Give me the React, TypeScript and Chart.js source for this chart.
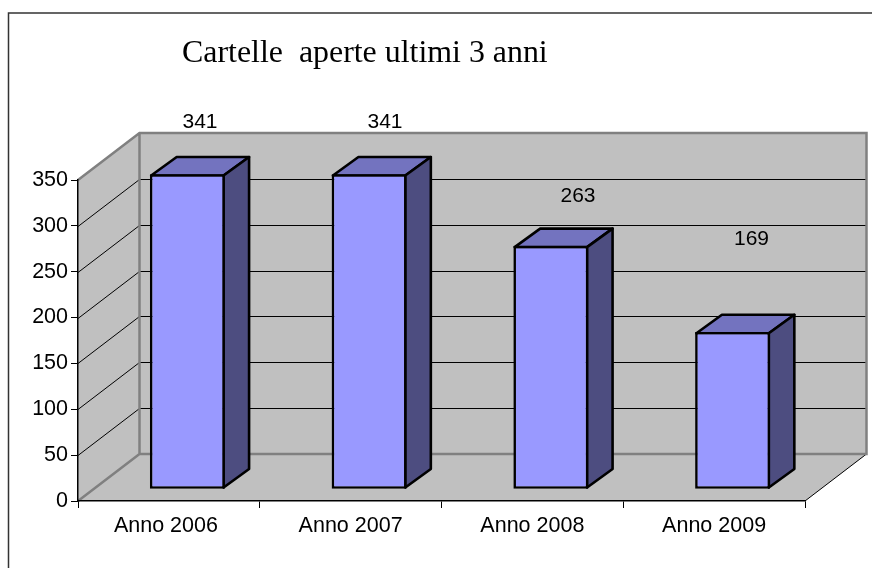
import React, { useEffect, useRef } from "react";
import { Chart, registerables } from "chart.js";

Chart.register(...registerables);

const categories = ["Anno 2006", "Anno 2007", "Anno 2008", "Anno 2009"];
const values = [341, 341, 263, 169];
const chartTitle = "Cartelle  aperte ultimi 3 anni";
const yMax = 350;
const yStep = 50;

// Styling / 3D projection parameters
const WALL_DX = 61.5;
const WALL_DY = -47;
const BAR_SHIFT_X = 18.5;
const BAR_SHIFT_Y = -14;
const BAR_DX = 25.5;
const BAR_DY = -18.5;
const labelOffsets = [
  [12.6, -46.3],
  [15.9, -46.3],
  [27.1, -43.8],
  [18.9, -87],
];

const threeD = {
  id: "threeD",
  beforeDraw(chart: any) {
    const { ctx, scales } = chart;
    const x = scales.x;
    const y = scales.y;
    const l = x.left;
    const r = x.right;
    const b = y.getPixelForValue(0);
    const t = y.getPixelForValue(yMax);
    ctx.save();
    ctx.fillStyle = "#ffffff";
    ctx.fillRect(0, 0, chart.width, chart.height);

    // frame
    ctx.strokeStyle = "#333333";
    ctx.lineWidth = 1.5;
    ctx.beginPath();
    ctx.moveTo(8.5, chart.height);
    ctx.lineTo(8.5, 13);
    ctx.lineTo(chart.width, 13);
    ctx.stroke();

    // walls and floor
    ctx.fillStyle = "#c0c0c0";
    ctx.beginPath();
    ctx.moveTo(l, b);
    ctx.lineTo(l, t);
    ctx.lineTo(l + WALL_DX, t + WALL_DY);
    ctx.lineTo(r + WALL_DX, t + WALL_DY);
    ctx.lineTo(r + WALL_DX, b + WALL_DY);
    ctx.lineTo(r, b);
    ctx.closePath();
    ctx.fill();

    // gridlines
    ctx.strokeStyle = "#000000";
    ctx.lineWidth = 1;
    for (let v = yStep; v < yMax; v += yStep) {
      const p = Math.round(y.getPixelForValue(v)) + 0.5;
      ctx.beginPath();
      ctx.moveTo(l, p);
      ctx.lineTo(l + WALL_DX, p + WALL_DY);
      ctx.lineTo(r + WALL_DX, p + WALL_DY);
      ctx.stroke();
    }
    // right floor edge
    ctx.beginPath();
    ctx.moveTo(r, b);
    ctx.lineTo(r + WALL_DX, b + WALL_DY);
    ctx.stroke();

    // grey wall edges
    ctx.strokeStyle = "#808080";
    ctx.lineWidth = 2.5;
    ctx.beginPath();
    ctx.moveTo(l, t);
    ctx.lineTo(l + WALL_DX, t + WALL_DY);
    ctx.lineTo(r + WALL_DX, t + WALL_DY);
    ctx.lineTo(r + WALL_DX, b + WALL_DY);
    ctx.lineTo(l + WALL_DX, b + WALL_DY);
    ctx.lineTo(l + WALL_DX, t + WALL_DY);
    ctx.moveTo(l + WALL_DX, b + WALL_DY);
    ctx.lineTo(l, b);
    ctx.stroke();
    ctx.restore();
  },
  beforeDatasetsDraw(chart: any) {
    const { ctx } = chart;
    ctx.save();
    ctx.translate(BAR_SHIFT_X, BAR_SHIFT_Y);
    ctx.lineWidth = 2.6;
    ctx.strokeStyle = "#000000";
    ctx.lineJoin = "round";
    chart.getDatasetMeta(0).data.forEach((bar: any) => {
      const hw = bar.width / 2 - 1.3;
      const x0 = bar.x - hw;
      const x1 = bar.x + hw;
      const top = bar.y + 1.3;
      const base = bar.base - 1.3;
      ctx.fillStyle = "#7373bf";
      ctx.beginPath();
      ctx.moveTo(x0, top);
      ctx.lineTo(x0 + BAR_DX, top + BAR_DY);
      ctx.lineTo(x1 + BAR_DX, top + BAR_DY);
      ctx.lineTo(x1, top);
      ctx.closePath();
      ctx.fill();
      ctx.stroke();
      ctx.fillStyle = "#4d4d80";
      ctx.beginPath();
      ctx.moveTo(x1, top);
      ctx.lineTo(x1 + BAR_DX, top + BAR_DY);
      ctx.lineTo(x1 + BAR_DX, base + BAR_DY);
      ctx.lineTo(x1, base);
      ctx.closePath();
      ctx.fill();
      ctx.stroke();
    });
  },
  afterDatasetsDraw(chart: any) {
    const { ctx } = chart;
    ctx.restore();
    ctx.save();
    ctx.fillStyle = "#000000";
    ctx.textAlign = "center";
    ctx.textBaseline = "alphabetic";
    ctx.font = '21px "Liberation Sans"';
    chart.getDatasetMeta(0).data.forEach((bar: any, i: number) => {
      const [dx, dy] = labelOffsets[i];
      ctx.fillText(String(values[i]), bar.x + BAR_SHIFT_X + dx, bar.y + BAR_SHIFT_Y + dy);
    });
    ctx.textAlign = "left";
    ctx.font = '31.9px "Liberation Serif"';
    ctx.fillText(chartTitle, 182, 62);
    ctx.restore();
  },
};

export default function App() {
  const ref = useRef<HTMLCanvasElement | null>(null);
  useEffect(() => {
    const chart = new Chart(ref.current as HTMLCanvasElement, {
      type: "bar",
      data: {
        labels: categories,
        datasets: [
          {
            data: values,
            base: -2,
            backgroundColor: "#9999ff",
            borderColor: "#000000",
            borderWidth: 2.6,
            borderSkipped: false,
            categoryPercentage: 1,
            barPercentage: 0.4127,
            clip: false,
          } as any,
        ],
      },
      options: {
        responsive: false,
        animation: false,
        layout: { autoPadding: false, padding: { left: 0, top: 180, right: 67, bottom: 0 } },
        plugins: { legend: { display: false }, title: { display: false }, tooltip: { enabled: false } },
        scales: {
          x: {
            afterFit(s: any) {
              s.height = 67;
            },
            border: { color: "#000000", width: 1.5 },
            grid: { drawOnChartArea: false, drawTicks: true, tickLength: 7, color: "#000000", offset: true },
            ticks: {
              color: "#000000",
              font: { family: "Liberation Sans", size: 21.5 },
              padding: 5,
              maxRotation: 0,
              // the first label sits slightly left of its category centre
              callback: (_v: any, i: number) => categories[i] + (i === 0 ? " " : ""),
            },
          },
          y: {
            min: 0,
            max: yMax,
            afterFit(s: any) {
              s.width = 78;
            },
            border: { color: "#000000", width: 1.5 },
            grid: { drawOnChartArea: false, drawTicks: true, tickLength: 7, color: "#000000" },
            ticks: {
              stepSize: yStep,
              color: "#000000",
              font: { family: "Liberation Sans", size: 21.5 },
              padding: 3,
            },
          },
        },
      } as any,
      plugins: [threeD],
    });
    return () => chart.destroy();
  }, []);
  return (
    <canvas
      ref={ref}
      width={872}
      height={568}
      style={{ position: "fixed", left: 0, top: 0, width: 872, height: 568, display: "block" }}
    />
  );
}
